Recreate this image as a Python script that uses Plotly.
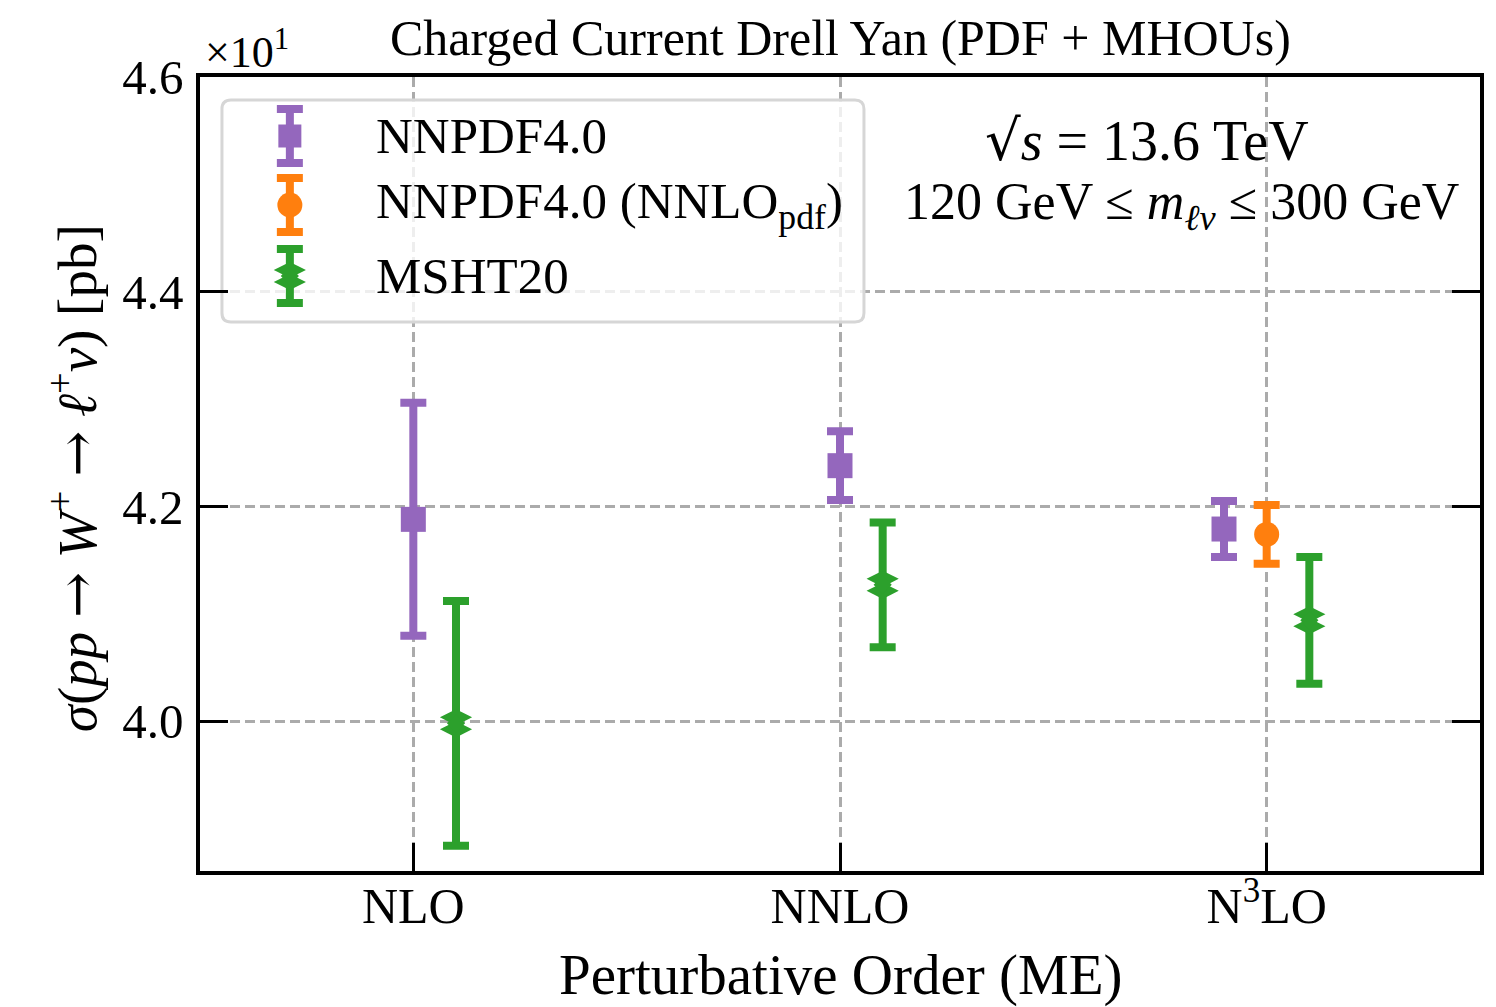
import plotly.graph_objects as go

# ---------------- data ----------------
orders = ["NLO", "NNLO", "N<sup>3</sup>LO"]
order_index = [0, 1, 2]

# cross sections in pb (axis shows them in units of 10 pb, "x10^1")
nnpdf_sigma = [41.88, 42.38, 41.79]
nnpdf_err = [1.085, 0.32, 0.26]

nnpdf_nnlopdf_orders = [2]
nnpdf_nnlopdf_sigma = [41.74]
nnpdf_nnlopdf_err = [0.273]

msht_sigma = [39.98, 41.27, 40.94]
msht_err = [1.14, 0.58, 0.59]

y_tick_vals = [4.0, 4.2, 4.4, 4.6]
y_tick_text = ["4.0", "4.2", "4.4", "4.6"]

legend_labels = ["NNPDF4.0", "NNPDF4.0 (NNLO<sub>pdf</sub>)", "MSHT20"]

# ---------------- style ----------------
SCALE = 10.0
W, H = 1496, 1007
PL, PR, PT, PB = 200, 1482, 77, 871
Y_RANGE = [3.8605, 4.6]
X_RANGE = [-0.5, 2.5]

nnpdf_offsets = [0.0, 0.0, -0.1]
nnlopdf_offsets = [0.0]
msht_offsets = [0.1, 0.1, 0.1]

PURPLE = "#9467bd"
ORANGE = "#ff7f0e"
GREEN = "#2ca02c"
FONT = "Liberation Serif"
ARROW = '<span style="font-family:DejaVu Serif">→</span>'

ERR_THICK = 8
ERR_HALFW = 13
SQ_SIZE = 25
CIRC_SIZE = 25
DIA_SIZE = 23          # "diamond-wide" lobes
DIA_CORE = 14          # central regular diamond filling the waist
DIA_OFF_PX = 6
data_per_px = (Y_RANGE[1] - Y_RANGE[0]) / (PB - PT)


def xp(px):
    return (px - PL) / (PR - PL)


def yp(py):
    return (PB - py) / (PB - PT)


def xd(px):
    return X_RANGE[0] + xp(px) * (X_RANGE[1] - X_RANGE[0])


def yd(py):
    return Y_RANGE[0] + yp(py) * (Y_RANGE[1] - Y_RANGE[0])


fig = go.Figure()


def marker_trace(xs, ys, color, symbol, size, axes):
    fig.add_trace(go.Scatter(
        x=xs, y=ys, mode="markers",
        marker=dict(size=size, color=color, symbol=symbol, line=dict(width=0)),
        xaxis=axes[0], yaxis=axes[1], showlegend=False, hoverinfo="skip",
    ))


def add_series(xs, ys, errs, color, symbol, size, axes=("x", "y"), double=False, off=0.0):
    fig.add_trace(go.Scatter(
        x=xs, y=ys, mode="markers",
        marker=dict(size=size, color="rgba(0,0,0,0)", line=dict(width=0)),
        error_y=dict(type="data", array=errs, visible=True, color=color,
                     thickness=ERR_THICK, width=ERR_HALFW),
        xaxis=axes[0], yaxis=axes[1], showlegend=False, hoverinfo="skip",
    ))
    if double:
        for s in (-1, 1):
            marker_trace(xs, [v + s * off for v in ys], color, symbol, size, axes)
        marker_trace(xs, ys, color, "diamond", DIA_CORE, axes)
    else:
        marker_trace(xs, ys, color, symbol, size, axes)


# main data
add_series([i + o for i, o in zip(order_index, nnpdf_offsets)],
           [v / SCALE for v in nnpdf_sigma], [e / SCALE for e in nnpdf_err],
           PURPLE, "square", SQ_SIZE)
add_series([i + o for i, o in zip(nnpdf_nnlopdf_orders, nnlopdf_offsets)],
           [v / SCALE for v in nnpdf_nnlopdf_sigma], [e / SCALE for e in nnpdf_nnlopdf_err],
           ORANGE, "circle", CIRC_SIZE)
add_series([i + o for i, o in zip(order_index, msht_offsets)],
           [v / SCALE for v in msht_sigma], [e / SCALE for e in msht_err],
           GREEN, "diamond-wide", DIA_SIZE, double=True, off=DIA_OFF_PX * data_per_px)

# ---------------- custom legend ----------------
LX0, LX1, LY0, LY1, R = 222, 865, 100, 322, 9
pts = [
    ("M", [(LX0 + R, LY0)]), ("L", [(LX1 - R, LY0)]), ("Q", [(LX1, LY0), (LX1, LY0 + R)]),
    ("L", [(LX1, LY1 - R)]), ("Q", [(LX1, LY1), (LX1 - R, LY1)]), ("L", [(LX0 + R, LY1)]),
    ("Q", [(LX0, LY1), (LX0, LY1 - R)]), ("L", [(LX0, LY0 + R)]), ("Q", [(LX0, LY0), (LX0 + R, LY0)]),
]
box = " ".join(cmd + " ".join(f"{xd(a):.5f},{yd(b):.5f}" for a, b in p) for cmd, p in pts) + " Z"
fig.add_shape(type="path", path=box, xref="x", yref="y", layer="between",
              fillcolor="rgba(255,255,255,0.8)", line=dict(color="#d6d6d6", width=3))

leg_x = 290
leg_y = [136, 205, 276]
leg_half = 27
add_series([leg_x], [leg_y[0]], [leg_half], PURPLE, "square", 23, axes=("x2", "y2"))
add_series([leg_x], [leg_y[1]], [leg_half], ORANGE, "circle", 25, axes=("x2", "y2"))
add_series([leg_x], [leg_y[2]], [leg_half], GREEN, "diamond-wide", DIA_SIZE,
           axes=("x2", "y2"), double=True, off=DIA_OFF_PX)

annotations = []
for lab, ly in zip(legend_labels, leg_y):
    annotations.append(dict(x=xp(374), y=yp(ly), xref="paper", yref="paper", text=lab,
                            showarrow=False, xanchor="left", yanchor="middle",
                            font=dict(family=FONT, size=51, color="black")))

# text inside plot
annotations.append(dict(x=xp(1148), y=yp(140), xref="paper", yref="paper",
                        text='<span style="font-family:DejaVu Serif">√</span><i>s</i> = 13.6 TeV',
                        showarrow=False, xanchor="center", yanchor="middle",
                        font=dict(family=FONT, size=56, color="black")))
annotations.append(dict(x=xp(1183), y=yp(205), xref="paper", yref="paper",
                        text="120 GeV ≤ <i>m</i><sub><i>ℓν</i></sub> ≤ 300 GeV", showarrow=False,
                        xanchor="center", yanchor="middle",
                        font=dict(family=FONT, size=52, color="black")))
# title
annotations.append(dict(x=xp(841), y=yp(38), xref="paper", yref="paper",
                        text="Charged Current Drell Yan (PDF + MHOUs)", showarrow=False,
                        xanchor="center", yanchor="middle",
                        font=dict(family=FONT, size=50, color="black")))
# offset text
annotations.append(dict(x=xp(203), y=yp(50), xref="paper", yref="paper",
                        text="×10<sup>1</sup>", showarrow=False,
                        xanchor="left", yanchor="middle",
                        font=dict(family=FONT, size=44, color="black")))
# axis titles
annotations.append(dict(x=xp(841), y=yp(975), xref="paper", yref="paper",
                        text="Perturbative Order (ME)", showarrow=False,
                        xanchor="center", yanchor="middle",
                        font=dict(family=FONT, size=57, color="black")))
annotations.append(dict(x=xp(74), y=yp(478), xref="paper", yref="paper",
                        text=(f"<i>σ</i>(<i>pp</i> {ARROW} <i>W</i><sup>+</sup> {ARROW} "
                              f"<i>ℓ</i><sup>+</sup><i>ν</i>) [pb]"),
                        showarrow=False, textangle=-90,
                        xanchor="center", yanchor="middle",
                        font=dict(family=FONT, size=55, color="black")))

grid = dict(showgrid=True, gridcolor="#ababab", gridwidth=3, griddash="10px,5px")

fig.update_layout(
    width=W, height=H,
    margin=dict(l=PL, r=W - PR, t=PT, b=H - PB, pad=0),
    paper_bgcolor="white", plot_bgcolor="white",
    showlegend=False,
    font=dict(family=FONT, color="black"),
    annotations=annotations,
    xaxis=dict(range=X_RANGE, tickvals=order_index, ticktext=orders,
               showline=True, linecolor="black", linewidth=3.5, mirror=True,
               ticks="inside", ticklen=28, tickwidth=3, tickcolor="black",
               tickfont=dict(family=FONT, size=50, color="black"),
               ticklabelstandoff=-12,
               zeroline=False, **grid),
    yaxis=dict(range=Y_RANGE, tickvals=y_tick_vals, ticktext=y_tick_text,
               showline=True, linecolor="black", linewidth=3.5, mirror="ticks",
               ticks="inside", ticklen=28, tickwidth=3, tickcolor="black",
               tickfont=dict(family=FONT, size=49, color="black"),
               ticklabelstandoff=3,
               zeroline=False, **grid),
    xaxis2=dict(range=[PL, PR], overlaying="x", visible=False, fixedrange=True),
    yaxis2=dict(range=[PB, PT], overlaying="y", visible=False, fixedrange=True),
)

fig.write_html("out.html")
